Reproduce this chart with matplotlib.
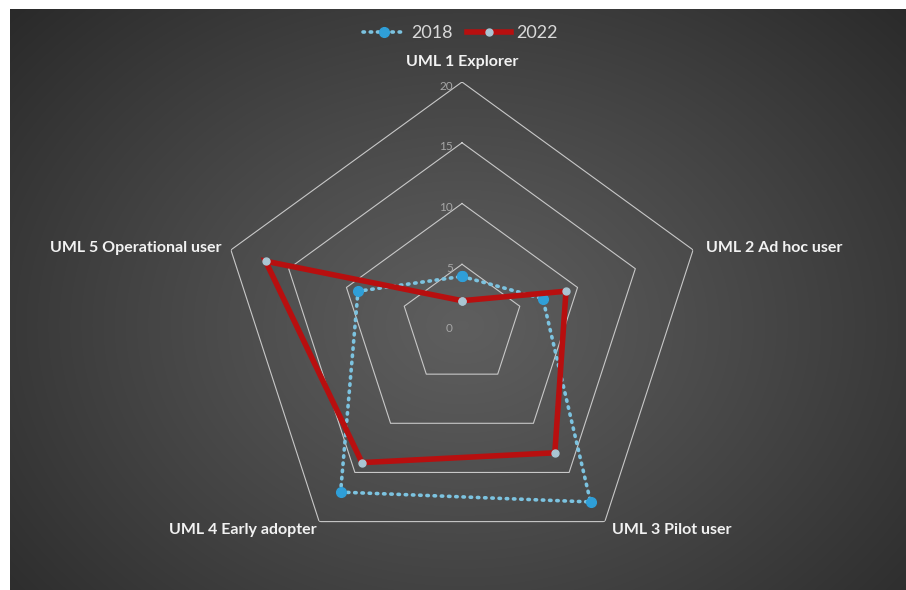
"""
Radar chart of UML level counts, 2018 against 2022, on a dark panel.
"""
import numpy as np
import matplotlib
matplotlib.use("Agg")
import matplotlib.pyplot as plt

categories = ["UML 1 Explorer", "UML 2 Ad hoc user", "UML 3 Pilot user",
              "UML 4 Early adopter", "UML 5 Operational user"]
values_2018 = [4, 7, 18, 17, 9]
values_2022 = [2, 9, 13, 14, 17]
ring_levels = [0, 5, 10, 15, 20]

# label placement per category: offset in pixels from the outer vertex
label_offsets = [(0, 20), (13, 2), (7, -8), (-3, -8), (-9, 2)]
label_align = ["center", "left", "left", "right", "right"]

plt.rcParams["font.family"] = ["Lato", "DejaVu Sans"]


def dark_background(fig):
    """Radial grey gradient behind the whole chart."""
    bg = fig.add_axes([10 / 906, 0, 896 / 906, 581 / 590])
    bg.set_axis_off()
    h, w = 581, 896
    yy, xx = np.mgrid[0:h, 0:w]
    cx, cy = 452, 316
    d = np.sqrt(((xx - cx) / 620.0) ** 2 + ((yy - cy) / 480.0) ** 2)
    d = np.clip(d, 0, 1)
    level = 0.37 - 0.21 * d ** 1.1
    img = np.dstack([level, level, level])
    bg.imshow(img, aspect="auto", interpolation="bilinear")
    bg.set_zorder(-10)


def plot_radar():
    fig = plt.figure(figsize=(9.06, 5.90), dpi=100, facecolor="white")
    dark_background(fig)

    ax = fig.add_axes([219 / 906, 22 / 590, 486 / 906, 486 / 590],
                      projection="polar")
    ax.set_facecolor("none")
    ax.set_theta_offset(np.pi / 2)
    ax.set_theta_direction(-1)
    ax.set_ylim(0, 20)
    ax.grid(False)
    ax.set_xticks([])
    ax.set_yticks([])
    ax.spines["polar"].set_visible(False)

    n = len(categories)
    angles = np.linspace(0, 2 * np.pi, n, endpoint=False)
    closed = np.concatenate([angles, angles[:1]])

    # pentagon grid rings
    for lvl in ring_levels[1:]:
        ax.plot(closed, [lvl] * (n + 1), color="#c8c8c8", lw=0.8, zorder=1)

    # value labels along the top spoke
    for lvl in ring_levels:
        ax.annotate(str(lvl), xy=(0, lvl), xytext=(-9, -4),
                    textcoords="offset pixels", ha="right", va="center",
                    color="#a6a6a6", fontsize=8.5)

    # category labels outside the outer ring
    for ang, name, off, ha in zip(angles, categories, label_offsets,
                                  label_align):
        ax.annotate(name, xy=(ang, 20), xytext=off,
                    textcoords="offset pixels", ha=ha, va="center",
                    color="#f2f2f2", fontsize=11.5, fontweight="bold",
                    annotation_clip=False)

    v18 = values_2018 + values_2018[:1]
    v22 = values_2022 + values_2022[:1]
    ax.plot(closed, v18, color="#7cc3e0", lw=2.6, linestyle=(0, (0.4, 1.6)),
            dash_capstyle="round", marker="o", markersize=7,
            markerfacecolor="#2f9fd8", markeredgecolor="#2f9fd8",
            label="2018", zorder=3, clip_on=False)
    ax.plot(closed, v22, color="#b80f0f", lw=4, solid_joinstyle="miter",
            marker="o", markersize=5, markerfacecolor="#a9c6d3",
            markeredgecolor="#a9c6d3", label="2022", zorder=4,
            clip_on=False)

    leg = fig.legend(loc="center", bbox_to_anchor=(0.508, 0.944), ncol=2,
                     frameon=False, fontsize=13, handlelength=2.4,
                     handletextpad=0.3, columnspacing=0.8)
    for txt in leg.get_texts():
        txt.set_color("#d9d9d9")

    fig.savefig("out.png", dpi=100, facecolor="white")


def main():
    plot_radar()


if __name__ == "__main__":
    main()
